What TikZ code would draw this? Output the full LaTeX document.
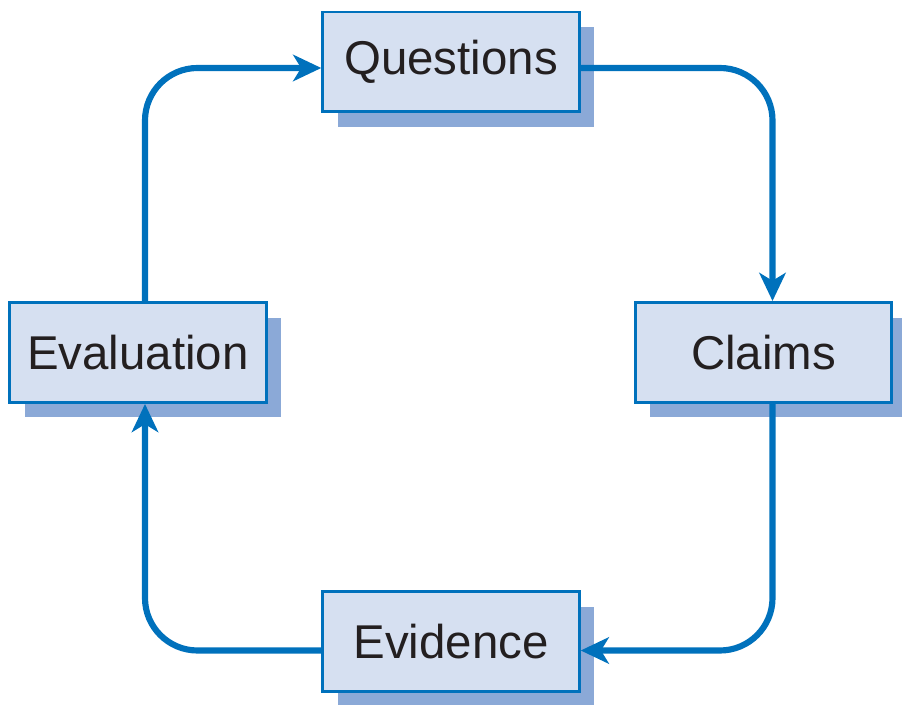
\documentclass[tikz,border=0pt]{standalone}
\usepackage{fontspec}
\setmainfont{Liberation Sans}
\usepackage{xcolor}
\usetikzlibrary{arrows.meta}
\usetikzlibrary{shadows}

\definecolor{cycleline}{HTML}{0071BC}
\definecolor{cyclefill}{HTML}{D6E0F1}
\definecolor{cycleshade}{HTML}{8BA9D7}
\definecolor{cycletext}{HTML}{231F20}

\begin{document}
\begin{tikzpicture}[x=0.02cm,y=-0.02cm]
          \useasboundingbox (0,0) rectangle (902,705);
          \begin{scope}[every node/.style={rectangle,draw=cycleline,line width=1.7pt,
              fill=cyclefill,text=cycletext,minimum width=5.13cm,minimum height=2cm,inner sep=0pt,
              font=\fontsize{27}{30}\selectfont,
              general shadow={fill=cycleshade,shadow xshift=0.3cm,shadow yshift=-0.3cm}}]
            \node (q) at (451,62) {Questions};
            \node (c) at (763.5,352.5) {Claims};
            \node (ev) at (451,641.5) {Evidence};
            \node (ea) at (138,352.5) {Evaluation};
          \end{scope}
          \begin{scope}[every path/.style={draw=cycleline,line width=3.5pt,rounded corners=1.05cm,
              -{Stealth[length=16pt,width=15pt,inset=4.5pt]}}]
            \path ([yshift=-0.12cm]q.east) -| ([xshift=0.18cm]c.north);
            \path ([xshift=0.18cm]c.south) |- ([yshift=-0.18cm]ev.east);
            \path ([yshift=-0.18cm]ev.west) -| ([xshift=0.14cm]ea.south);
            \path ([xshift=0.14cm]ea.north) |- ([yshift=-0.12cm]q.west);
          \end{scope}
        \end{tikzpicture}
\end{document}
